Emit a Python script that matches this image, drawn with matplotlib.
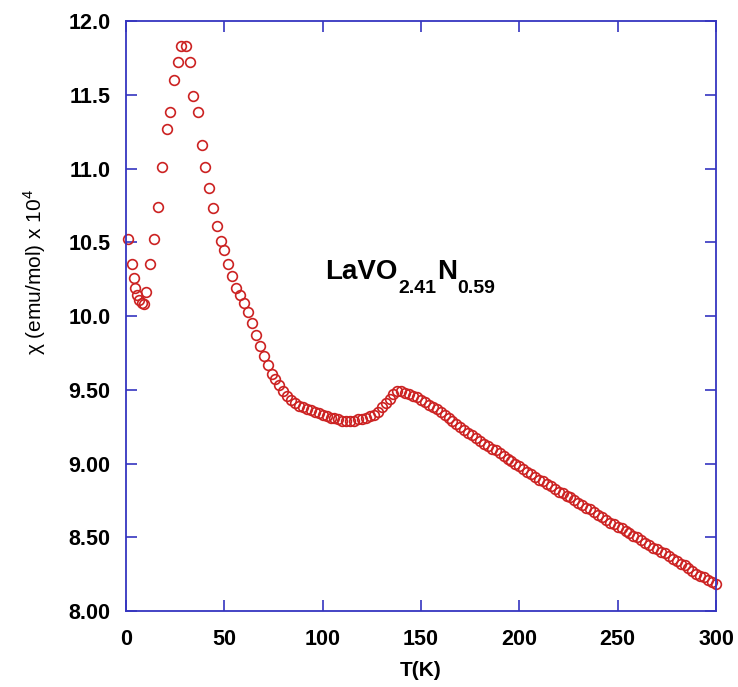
"""
Magnetic susceptibility chi(T) of LaVO2.41N0.59
"""

import matplotlib
matplotlib.use('Agg')
import matplotlib.pyplot as plt
from matplotlib.transforms import offset_copy

plt.rcParams['font.family'] = ['Liberation Sans', 'DejaVu Sans']
plt.rcParams['mathtext.fontset'] = 'custom'
plt.rcParams['mathtext.rm'] = 'Liberation Sans'
plt.rcParams['mathtext.bf'] = 'Liberation Sans:bold'

# temperature (K)
temp_k = [1, 3, 4, 4.8, 5.8, 6.8, 8, 9.2, 10.2, 12, 14, 16.5, 18.2, 20.7, 22.4,
          24.6, 26.4, 28, 30.5, 32.4, 34.2, 36.4, 38.5, 40.3, 42.2, 44.2, 46.4, 48.5,
          50, 52, 54, 56, 58, 60, 62, 64, 66, 68, 70, 72, 74, 76, 78, 80,
          82, 84, 86, 88, 90, 92, 94, 96, 98, 100, 102, 104, 106, 108, 110,
          112, 114, 116, 118, 120, 122, 124, 126, 128, 130, 132, 134, 136, 138, 140,
          142, 144, 146, 148, 150, 152, 154, 156, 158, 160, 162, 164, 166, 168, 170,
          172, 174, 176, 178, 180, 182, 184, 186, 188, 190, 192, 194, 196, 198, 200,
          202, 204, 206, 208, 210, 212, 214, 216, 218, 220, 222, 224, 226, 228, 230,
          232, 234, 236, 238, 240, 242, 244, 246, 248, 250, 252, 254, 256, 258, 260,
          262, 264, 266, 268, 270, 272, 274, 276, 278, 280, 282, 284, 286, 288, 290,
          292, 294, 296, 298, 300]

# chi (emu/mol) x 10^4
chi = [10.52, 10.35, 10.26, 10.19, 10.14, 10.11, 10.09, 10.08, 10.16, 10.35, 10.52,
       10.74, 11.01, 11.27, 11.38, 11.60, 11.72, 11.83, 11.83, 11.72, 11.49, 11.38,
       11.16, 11.01, 10.87, 10.73, 10.61, 10.51,
       10.45, 10.35, 10.27, 10.19, 10.14, 10.09, 10.03, 9.95, 9.87, 9.80, 9.73, 9.67,
       9.61, 9.57, 9.53, 9.49,
       9.46, 9.43, 9.41, 9.39, 9.38, 9.37, 9.36, 9.35, 9.34, 9.33, 9.32, 9.31, 9.31,
       9.30, 9.29,
       9.29, 9.29, 9.29, 9.30, 9.30, 9.31, 9.32, 9.33, 9.35, 9.38, 9.41, 9.44, 9.47,
       9.49, 9.49,
       9.48, 9.47, 9.46, 9.45, 9.43, 9.42, 9.40, 9.38, 9.37, 9.35, 9.33, 9.31, 9.29,
       9.27, 9.25,
       9.23, 9.21, 9.19, 9.17, 9.15, 9.13, 9.12, 9.10, 9.09, 9.07, 9.05, 9.03, 9.02,
       9.00, 8.98,
       8.96, 8.94, 8.93, 8.91, 8.89, 8.88, 8.86, 8.85, 8.83, 8.81, 8.80, 8.78, 8.77,
       8.75, 8.73,
       8.72, 8.70, 8.69, 8.67, 8.65, 8.64, 8.62, 8.60, 8.59, 8.57, 8.56, 8.54, 8.53,
       8.51, 8.50,
       8.48, 8.46, 8.45, 8.43, 8.42, 8.40, 8.39, 8.37, 8.35, 8.34, 8.32, 8.31, 8.29,
       8.27, 8.25,
       8.24, 8.23, 8.21, 8.20, 8.18]

x_ticks = [0, 50, 100, 150, 200, 250, 300]
y_ticks = [8.0, 8.5, 9.0, 9.5, 10.0, 10.5, 11.0, 11.5, 12.0]
y_tick_labels = ['8.00', '8.50', '9.00', '9.50', '10.0', '10.5', '11.0', '11.5', '12.0']

# formula pieces: (text, is_subscript)
formula = [('LaVO', False), ('2.41', True), ('N', False), ('0.59', True)]

axis_color = '#3535c0'
marker_color = '#cc2222'

fig = plt.figure(figsize=(7.38, 6.87), dpi=100, facecolor='white')
ax = fig.add_axes([0.1707, 0.1106, 0.7995, 0.8588])

ax.plot(temp_k, chi, linestyle='none', marker='o', markersize=7,
        markerfacecolor='none', markeredgecolor=marker_color, markeredgewidth=1.2,
        clip_on=False)

ax.set_xlim(0, 300)
ax.set_ylim(8.0, 12.0)
ax.set_xticks(x_ticks)
ax.set_yticks(y_ticks)
ax.set_yticklabels(y_tick_labels)

for spine in ax.spines.values():
    spine.set_color(axis_color)
    spine.set_linewidth(1.3)

ax.tick_params(direction='in', length=8, width=1.2, color=axis_color,
               top=True, right=True, labelsize=15.5, labelcolor='black')
ax.tick_params(axis='y', pad=11)
ax.tick_params(axis='x', pad=13)
for lbl in ax.get_xticklabels() + ax.get_yticklabels():
    lbl.set_fontweight('bold')

ax.set_xlabel('T(K)', fontsize=15, fontweight='bold', labelpad=8)
ax.text(-0.155, 0.575, r'χ (emu/mol) x 10$^{\mathrm{4}}$', transform=ax.transAxes,
        rotation=90, ha='center', va='center', fontsize=15)

# compound name with dropped subscripts, piece by piece
renderer = fig.canvas.get_renderer()
trans = ax.transData
x_off = 0
for piece, is_sub in formula:
    size = 14 if is_sub else 20
    dy = -10 if is_sub else 0
    t = ax.text(101.2, 10.25, piece, fontsize=size, fontweight='bold',
                ha='left', va='baseline',
                transform=offset_copy(trans, fig=fig, x=x_off, y=dy, units='points'))
    ext = t.get_window_extent(renderer=renderer)
    x_off += ext.width * 72.0 / fig.dpi + 0.5

fig.savefig('out.png', dpi=100)
plt.close(fig)
